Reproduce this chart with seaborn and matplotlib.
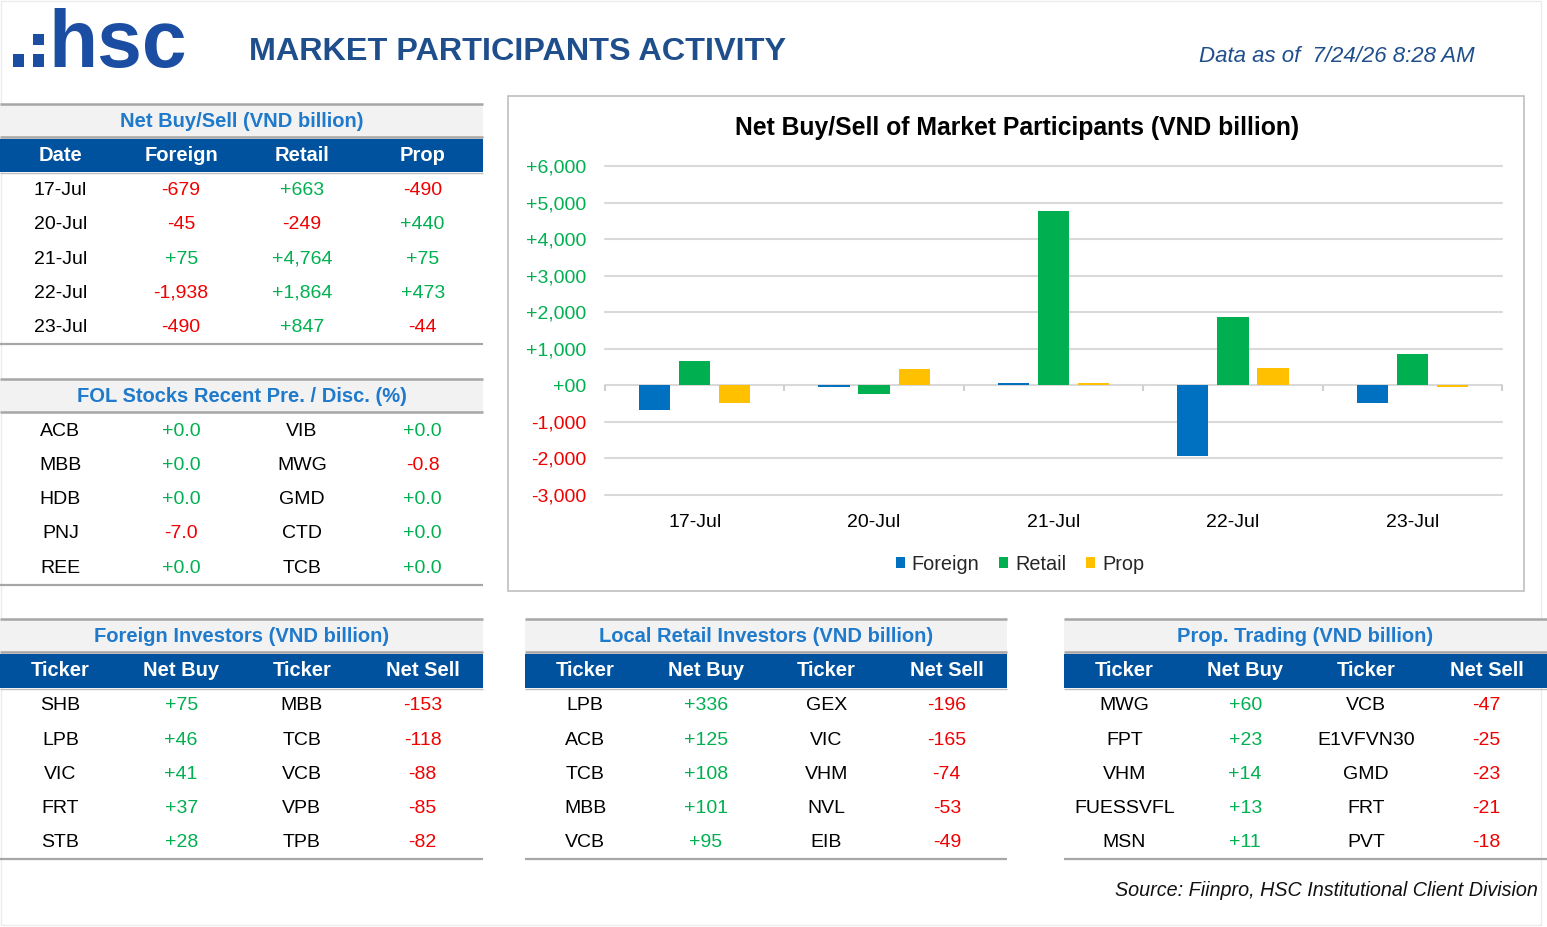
import numpy as np
import pandas as pd
import matplotlib
matplotlib.use('Agg')
import matplotlib.pyplot as plt
from matplotlib.patches import Rectangle
import seaborn as sns

# ---------------- data ----------------
dates = ['17-Jul', '20-Jul', '21-Jul', '22-Jul', '23-Jul']
groups = ['Foreign', 'Retail', 'Prop']
foreign = [-679, -45, 75, -1938, -490]
retail = [663, -249, 4764, 1864, 847]
prop = [-490, 440, 75, 473, -44]
yticks = [-3000, -2000, -1000, 0, 1000, 2000, 3000, 4000, 5000, 6000]

fol_left_tickers = ['ACB', 'MBB', 'HDB', 'PNJ', 'REE']
fol_left_values = [0.0, 0.0, 0.0, -7.0, 0.0]
fol_right_tickers = ['VIB', 'MWG', 'GMD', 'CTD', 'TCB']
fol_right_values = [0.0, -0.8, 0.0, 0.0, 0.0]

foreign_buy_tickers = ['SHB', 'LPB', 'VIC', 'FRT', 'STB']
foreign_buy_values = [75, 46, 41, 37, 28]
foreign_sell_tickers = ['MBB', 'TCB', 'VCB', 'VPB', 'TPB']
foreign_sell_values = [-153, -118, -88, -85, -82]

retail_buy_tickers = ['LPB', 'ACB', 'TCB', 'MBB', 'VCB']
retail_buy_values = [336, 125, 108, 101, 95]
retail_sell_tickers = ['GEX', 'VIC', 'VHM', 'NVL', 'EIB']
retail_sell_values = [-196, -165, -74, -53, -49]

prop_buy_tickers = ['MWG', 'FPT', 'VHM', 'FUESSVFL', 'MSN']
prop_buy_values = [60, 23, 14, 13, 11]
prop_sell_tickers = ['VCB', 'E1VFVN30', 'GMD', 'FRT', 'PVT']
prop_sell_values = [-47, -25, -23, -21, -18]

# ---------------- style ----------------
sns.set_theme(style='white')
plt.rcParams['font.family'] = ['Liberation Sans', 'DejaVu Sans']

W, H = 1547, 927
HDR_BLUE = '#00529F'
TITLE_BLUE = '#1F7ACB'
NAVY = '#1F4E8C'
LOGO = '#1B4EA2'
GREEN = '#00B050'
RED = '#F00000'
LINE = '#A6A6A6'
BAR_COLORS = ['#0070C0', '#00B050', '#FFC000']

fig = plt.figure(figsize=(W / 100, H / 100), dpi=100)
bg = fig.add_axes([0, 0, 1, 1])
bg.set_xlim(0, W)
bg.set_ylim(H, 0)
bg.axis('off')

# faint outer frame
bg.add_patch(Rectangle((1, 1), 1540, 924, fill=False, ec='#ECECEC', lw=1))


def sgn_color(v):
    return GREEN if v >= 0 else RED


def band(x0, x1, ytop, ybot, title):
    bg.add_patch(Rectangle((x0, ytop), x1 - x0, ybot - ytop, fc='#F2F2F2', ec='none'))
    bg.hlines([ytop, ybot], x0, x1, color=LINE, lw=1.8)
    bg.text((x0 + x1) / 2, (ytop + ybot) / 2 + 1, title, color=TITLE_BLUE,
            fontsize=14.5, fontweight='bold', ha='center', va='center')


def header(x0, x1, ytop, ybot, labels):
    bg.add_patch(Rectangle((x0, ytop), x1 - x0, ybot - ytop, fc=HDR_BLUE, ec='none'))
    bg.hlines([ybot + 0.5], x0, x1, color='#BFBFBF', lw=1)
    cw = (x1 - x0) / 4
    for i, lab in enumerate(labels):
        bg.text(x0 + (i + 0.5) * cw, (ytop + ybot) / 2, lab, color='white',
                fontsize=14.5, fontweight='bold', ha='center', va='center')


def body(x0, x1, y0, dy, columns, ybottom):
    cw = (x1 - x0) / 4
    for ci, (texts, colors) in enumerate(columns):
        for ri, (t, c) in enumerate(zip(texts, colors)):
            bg.text(x0 + (ci + 0.5) * cw, y0 + ri * dy + 2, t, color=c,
                    fontsize=14, ha='center', va='center')
    bg.hlines([ybottom], x0, x1, color=LINE, lw=1.6)


def fmt_int(v):
    return f"{v:+,d}"


def fmt_pct(v):
    return f"{v:+.1f}"


# ---------------- header ----------------
for (x, y, w, h) in [(13, 54, 11, 13), (33, 34, 11, 11), (33, 54, 11, 13)]:
    bg.add_patch(Rectangle((x, y), w, h, fc=LOGO, ec='none'))
bg.text(48, 67, 'hsc', color=LOGO, fontsize=58, fontweight='bold',
        ha='left', va='baseline')
bg.text(249, 52, 'MARKET PARTICIPANTS ACTIVITY', color=NAVY, fontsize=23.3,
        fontweight='bold', ha='left', va='center')
bg.text(1475, 56, 'Data as of  7/24/26 8:28 AM', color=NAVY, fontsize=16,
        style='italic', ha='right', va='center')

# ---------------- table 1: net buy/sell ----------------
band(0, 483, 104, 137, 'Net Buy/Sell (VND billion)')
header(0, 483, 139, 172, ['Date', 'Foreign', 'Retail', 'Prop'])
body(0, 483, 188, 34.5, [
    (dates, ['black'] * len(dates)),
    ([fmt_int(v) for v in foreign], [sgn_color(v) for v in foreign]),
    ([fmt_int(v) for v in retail], [sgn_color(v) for v in retail]),
    ([fmt_int(v) for v in prop], [sgn_color(v) for v in prop]),
], 344)

# ---------------- table 2: FOL ----------------
band(0, 483, 379, 412, 'FOL Stocks Recent Pre. / Disc. (%)')
body(0, 483, 429, 34.3, [
    (fol_left_tickers, ['black'] * 5),
    ([fmt_pct(v) for v in fol_left_values], [sgn_color(v) for v in fol_left_values]),
    (fol_right_tickers, ['black'] * 5),
    ([fmt_pct(v) for v in fol_right_values], [sgn_color(v) for v in fol_right_values]),
], 585)

# ---------------- bottom tables ----------------
bottom = [
    (0, 483, 'Foreign Investors (VND billion)', foreign_buy_tickers, foreign_buy_values,
     foreign_sell_tickers, foreign_sell_values),
    (525, 1007, 'Local Retail Investors (VND billion)', retail_buy_tickers, retail_buy_values,
     retail_sell_tickers, retail_sell_values),
    (1064, 1547, 'Prop. Trading (VND billion)', prop_buy_tickers, prop_buy_values,
     prop_sell_tickers, prop_sell_values),
]
for x0, x1, title, bt, bv, st, sv in bottom:
    band(x0, x1, 619, 652, title)
    header(x0, x1, 654, 688, ['Ticker', 'Net Buy', 'Ticker', 'Net Sell'])
    body(x0, x1, 704, 34.2, [
        (bt, ['black'] * 5),
        ([fmt_int(v) for v in bv], [sgn_color(v) for v in bv]),
        (st, ['black'] * 5),
        ([fmt_int(v) for v in sv], [sgn_color(v) for v in sv]),
    ], 859)

bg.text(1538, 891, 'Source: Fiinpro, HSC Institutional Client Division', fontsize=14.2,
        style='italic', color='#111111', ha='right', va='center')

# ---------------- chart ----------------
bg.add_patch(Rectangle((508, 96), 1016, 495, fill=False, ec='#BFBFBF', lw=1.2))
bg.text(1017, 128, 'Net Buy/Sell of Market Participants (VND billion)', fontsize=17.8,
        fontweight='bold', color='black', ha='center', va='center')

ax = fig.add_axes([605 / W, 1 - 495 / H, 897 / W, 329 / H])
ax.patch.set_alpha(0)
df = pd.DataFrame({
    'date': dates * 3,
    'group': np.repeat(groups, len(dates)),
    'value': foreign + retail + prop,
})
sns.barplot(data=df, x='date', y='value', hue='group', order=dates, hue_order=groups,
            palette=dict(zip(groups, BAR_COLORS)), saturation=1, width=0.67, gap=0.22,
            errorbar=None, linewidth=0, ax=ax, zorder=3)
ax.set_xlim(-0.5, len(dates) - 0.5)
ax.set_ylim(yticks[0], yticks[-1])
ax.set_yticks(yticks)
ax.set_yticklabels(['+00' if v == 0 else f"{v:+,d}" for v in yticks])
for lab, v in zip(ax.get_yticklabels(), yticks):
    lab.set_color(sgn_color(v))
ax.tick_params(axis='y', length=0, labelsize=14, pad=13.5)
ax.tick_params(axis='x', length=0, labelsize=14, pad=13.5, colors='black')
ax.set_xlabel('')
ax.set_ylabel('')
for s in ax.spines.values():
    s.set_visible(False)
ax.set_axisbelow(True)
ax.yaxis.grid(True, color='#D9D9D9', lw=1.5)
ax.xaxis.grid(False)
for gl in ax.get_ygridlines():
    gl.set_clip_on(False)
ax.vlines(np.arange(len(dates) + 1) - 0.5, -160, 0, color='#D0D0D0', lw=1.5,
          clip_on=False, zorder=1)

handles, labels = ax.get_legend_handles_labels()
if ax.get_legend() is not None:
    ax.get_legend().remove()
ax.legend(handles, labels, loc='center', bbox_to_anchor=(1020 / W, 1 - 564 / H),
          bbox_transform=fig.transFigure, ncol=3, frameon=False, fontsize=14.3,
          handlelength=0.45, handleheight=0.45, handletextpad=0.35, columnspacing=1.0,
          borderpad=0)

fig.savefig('out.png', dpi=100, facecolor='white')
